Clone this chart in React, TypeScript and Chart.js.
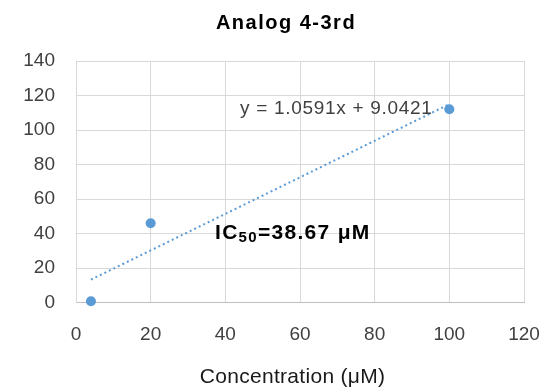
import React, { useEffect, useRef } from "react";
import { Chart, registerables } from "chart.js";

Chart.register(...registerables);

const concentrations = [4, 20, 100];
const inhibition = [0.8, 46, 112];
const trendX = [4, 100];
const trendY = [13.3, 114.95];
const xMin = 0;
const xMax = 120;
const xStep = 20;
const yMin = 0;
const yMax = 140;
const yStep = 20;
const chartTitle = "Analog 4-3rd";
const xAxisTitle = "Concentration (μM)";
const equationLabel = "y = 1.0591x + 9.0421";
const ic50Main = "IC";
const ic50Sub = "50";
const ic50Rest = "=38.67 μM";

const BLUE = "#5B9BD5";
const FONT = "'Liberation Sans', Arial, sans-serif";

const textPlugin = {
  id: "textAnnotations",
  afterDraw(chart: any) {
    const ctx: CanvasRenderingContext2D = chart.ctx;
    ctx.save();
    // chart title
    ctx.font = `bold 20px ${FONT}`;
    (ctx as any).letterSpacing = "1.5px";
    ctx.fillStyle = "#000000";
    ctx.textAlign = "left";
    ctx.textBaseline = "alphabetic";
    const tw = ctx.measureText(chartTitle).width;
    ctx.fillText(chartTitle, 286 - tw / 2, 29);

    // x axis title
    ctx.font = `21px ${FONT}`;
    (ctx as any).letterSpacing = "0.3px";
    ctx.fillStyle = "#1a1a1a";
    const aw = ctx.measureText(xAxisTitle).width;
    ctx.fillText(xAxisTitle, 292.5 - aw / 2, 383);

    // equation
    ctx.font = `19px ${FONT}`;
    (ctx as any).letterSpacing = "0.7px";
    ctx.fillStyle = "#404040";
    ctx.fillText(equationLabel, 240, 113.5);

    // IC50
    ctx.fillStyle = "#000000";
    ctx.font = `bold 21px ${FONT}`;
    (ctx as any).letterSpacing = "1.3px";
    let x = 215;
    const base = 239;
    ctx.fillText(ic50Main, x, base);
    x += ctx.measureText(ic50Main).width;
    ctx.font = `bold 15px ${FONT}`;
    ctx.fillText(ic50Sub, x, base + 3);
    x += ctx.measureText(ic50Sub).width;
    ctx.font = `bold 21px ${FONT}`;
    ctx.fillText(ic50Rest, x, base);
    ctx.restore();
  },
};

export default function App() {
  const ref = useRef<HTMLCanvasElement | null>(null);
  useEffect(() => {
    if (!ref.current) return;
    const chart = new Chart(ref.current, {
      type: "scatter",
      data: {
        datasets: [
          {
            type: "scatter",
            label: "data",
            data: concentrations.map((c, i) => ({ x: c, y: inhibition[i] })),
            backgroundColor: BLUE,
            borderColor: BLUE,
            pointRadius: 5,
            pointBorderWidth: 0,
            clip: false as any,
            order: 1,
          },
          {
            type: "line",
            label: "trend",
            data: trendX.map((c, i) => ({ x: c, y: trendY[i] })),
            borderColor: BLUE,
            borderWidth: 2,
            borderDash: [2, 3],
            pointRadius: 0,
            fill: false,
            order: 2,
          } as any,
        ],
      },
      options: {
        responsive: false,
        animation: false,
        layout: { padding: { left: 0, right: 21, top: 61, bottom: 0 } },
        plugins: {
          legend: { display: false },
          title: { display: false },
          tooltip: { enabled: false },
        },
        scales: {
          x: {
            type: "linear",
            min: xMin,
            max: xMax,
            ticks: {
              stepSize: xStep,
              padding: 21,
              color: "#404040",
              font: { family: FONT, size: 19 },
              maxRotation: 0,
            },
            grid: { color: "#d9d9d9", drawTicks: false, lineWidth: 1 },
            border: { color: "#bfbfbf" },
            afterFit: (s: any) => {
              s.height = 86.4;
              s.paddingLeft = 0;
              s.paddingRight = 0;
            },
          },
          y: {
            type: "linear",
            min: yMin,
            max: yMax,
            ticks: {
              stepSize: yStep,
              padding: 21,
              color: "#404040",
              font: { family: FONT, size: 19 },
            },
            grid: { color: "#d9d9d9", drawTicks: false, lineWidth: 1 },
            border: { color: "#d9d9d9" },
            afterFit: (s: any) => {
              s.width = 76;
              s.paddingTop = 0;
              s.paddingBottom = 0;
            },
          },
        },
      },
      plugins: [textPlugin],
    });
    return () => chart.destroy();
  }, []);
  return (
    <div style={{ position: "absolute", left: 0, top: 0, width: 545, height: 389, background: "#fff" }}>
      <canvas ref={ref} width={545} height={389} style={{ display: "block" }} />
    </div>
  );
}
